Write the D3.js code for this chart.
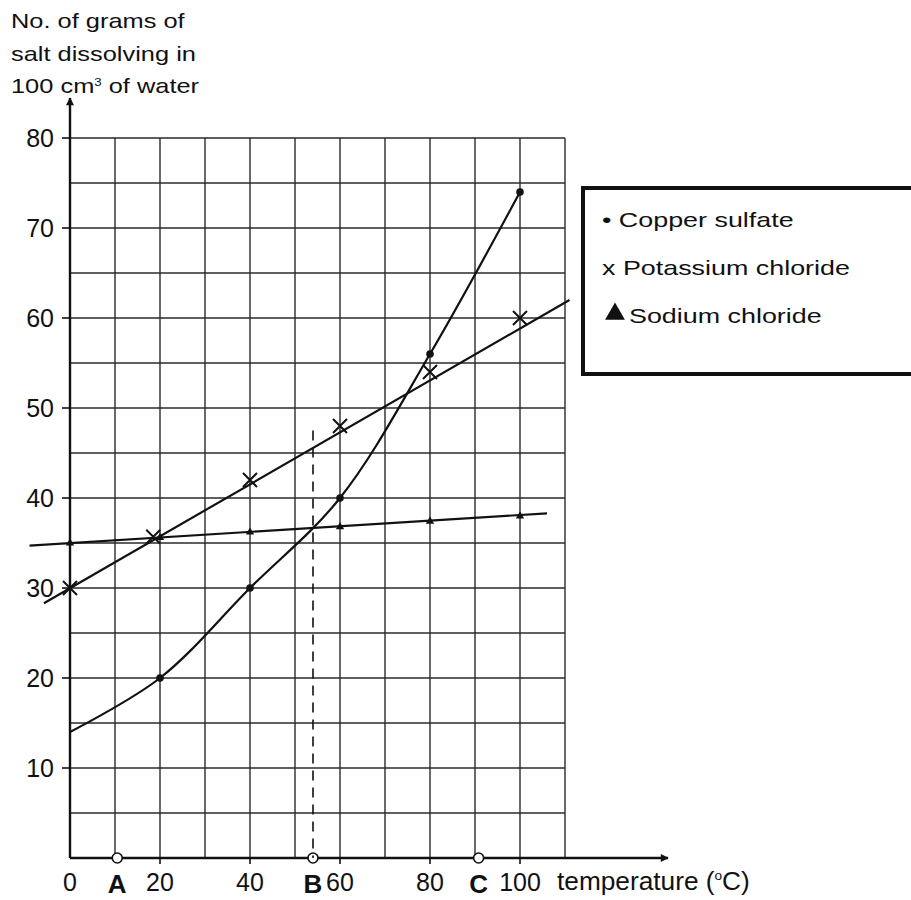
<!DOCTYPE html>
<html>
<head>
<meta charset="utf-8">
<script src="https://cdn.jsdelivr.net/npm/d3@7"></script>
<style>
  body { margin: 0; background: #fff; }
  text { font-family: "Liberation Sans", Arial, sans-serif; fill: #111; }
</style>
</head>
<body>
<div id="chart"></div>
<script>
// values
var xTicks = [0, 20, 40, 60, 80, 100];
var yTicks = [10, 20, 30, 40, 50, 60, 70, 80];
var xGrid = [10, 20, 30, 40, 50, 60, 70, 80, 90, 100, 110];
var yGrid = [5, 10, 15, 20, 25, 30, 35, 40, 45, 50, 55, 60, 65, 70, 75, 80];

var copperCurve = [[0, 14], [20, 20], [40, 30], [60, 40], [80, 56], [100, 74]];
var copperDots = [[20, 20], [40, 30], [60, 40], [80, 56], [100, 74]];

var potassiumLine = [[-5.8, 28.3], [111, 62]];
var potassiumMarks = [[0, 30], [18.5, 35.7], [40, 42], [60, 48], [80, 54], [100, 60]];

var sodiumLine = [[-9, 34.7], [106, 38.3]];
var sodiumMarks = [[0, 35], [20, 35.6], [40, 36.2], [60, 36.8], [80, 37.4], [100, 38]];

var markLetters = [["A", 10.5], ["B", 54], ["C", 90.8]];
var dashedB = [[54, 47.5], [54, 0]];

var titleLines = ["No. of grams of", "salt dissolving in"];
var legendItems = ["• Copper sulfate", "x Potassium chloride", "Sodium chloride"];

var svgWidth = 911;
var svgHeight = 900;

var svg = d3.select("#chart")
  .append("svg")
  .attr("width", svgWidth)
  .attr("height", svgHeight);

var x = d3.scaleLinear().domain([0, 100]).range([70, 520]);
var y = d3.scaleLinear().domain([0, 80]).range([858, 138]);

// grid
svg.append("g").selectAll("line")
  .data(xGrid)
  .enter().append("line")
  .attr("x1", d => x(d)).attr("x2", d => x(d))
  .attr("y1", y(80)).attr("y2", y(0))
  .attr("stroke", "#2a2a2a").attr("stroke-width", 1.4);

svg.append("g").selectAll("line")
  .data(yGrid)
  .enter().append("line")
  .attr("x1", x(0)).attr("x2", x(110))
  .attr("y1", d => y(d)).attr("y2", d => y(d))
  .attr("stroke", "#2a2a2a").attr("stroke-width", 1.4);

// axes with arrows
svg.append("defs").append("marker")
  .attr("id", "arrow")
  .attr("viewBox", "0 0 10 10")
  .attr("refX", 9).attr("refY", 5)
  .attr("markerWidth", 9).attr("markerHeight", 8)
  .attr("markerUnits", "userSpaceOnUse")
  .attr("orient", "auto")
  .append("path")
  .attr("d", "M0,0 L10,5 L0,10 z")
  .attr("fill", "#111");

svg.append("line")
  .attr("x1", x(0)).attr("y1", y(0))
  .attr("x2", x(0)).attr("y2", 98)
  .attr("stroke", "#111").attr("stroke-width", 2.4)
  .attr("marker-end", "url(#arrow)");

svg.append("line")
  .attr("x1", x(0)).attr("y1", y(0))
  .attr("x2", 668).attr("y2", y(0))
  .attr("stroke", "#111").attr("stroke-width", 2.4)
  .attr("marker-end", "url(#arrow)");

// y ticks
var yAxis = svg.append("g");
yAxis.selectAll("line")
  .data(yTicks)
  .enter().append("line")
  .attr("x1", x(0) - 8).attr("x2", x(0))
  .attr("y1", d => y(d)).attr("y2", d => y(d))
  .attr("stroke", "#111").attr("stroke-width", 1.6);
yAxis.selectAll("text")
  .data(yTicks)
  .enter().append("text")
  .attr("x", 54).attr("y", d => y(d) + 9)
  .attr("text-anchor", "end")
  .style("font-size", "25px")
  .text(d => d);

// x ticks
svg.append("g").selectAll("line")
  .data(xTicks.slice(1))
  .enter().append("line")
  .attr("x1", d => x(d)).attr("x2", d => x(d))
  .attr("y1", y(0)).attr("y2", y(0) + 6)
  .attr("stroke", "#111").attr("stroke-width", 1.6);
svg.append("g").selectAll("text")
  .data(xTicks)
  .enter().append("text")
  .attr("x", d => x(d)).attr("y", 891)
  .attr("text-anchor", "middle")
  .style("font-size", "25px")
  .text(d => d);

// A, B, C
svg.append("g").selectAll("circle")
  .data(markLetters)
  .enter().append("circle")
  .attr("cx", d => x(d[1])).attr("cy", y(0))
  .attr("r", 5)
  .attr("fill", "#fff").attr("stroke", "#111").attr("stroke-width", 1.6);
svg.append("g").selectAll("text")
  .data(markLetters)
  .enter().append("text")
  .attr("x", d => x(d[1])).attr("y", 893)
  .attr("text-anchor", "middle")
  .style("font-size", "26px").style("font-weight", "bold")
  .text(d => d[0]);

svg.append("text")
  .attr("transform", "translate(557,890) scale(1.05,1)")
  .style("font-size", "25px")
  .html('temperature (<tspan dy="-10" style="font-size:13px">o</tspan><tspan dy="10">C)</tspan>');

// dashed line at B
svg.append("path")
  .attr("d", d3.line().x(d => x(d[0])).y(d => y(d[1]))(dashedB))
  .attr("stroke", "#111").attr("stroke-width", 1.6)
  .attr("stroke-dasharray", "10,7").attr("fill", "none");

var line = d3.line().x(d => x(d[0])).y(d => y(d[1]));

// sodium chloride
svg.append("path")
  .attr("d", line(sodiumLine))
  .attr("stroke", "#111").attr("stroke-width", 2.2).attr("fill", "none");
svg.append("g").selectAll("path")
  .data(sodiumMarks)
  .enter().append("path")
  .attr("transform", d => `translate(${x(d[0])},${y(d[1])})`)
  .attr("d", d3.symbol().type(d3.symbolTriangle).size(30))
  .attr("fill", "#111");

// potassium chloride
svg.append("path")
  .attr("d", line(potassiumLine))
  .attr("stroke", "#111").attr("stroke-width", 2.2).attr("fill", "none");
svg.append("g").selectAll("path")
  .data(potassiumMarks)
  .enter().append("path")
  .attr("transform", d => `translate(${x(d[0])},${y(d[1])})`)
  .attr("d", "M-7,-7L7,7M-7,7L7,-7")
  .attr("stroke", "#111").attr("stroke-width", 2);

// copper sulfate
svg.append("path")
  .attr("d", d3.line().curve(d3.curveCatmullRom.alpha(0.5)).x(d => x(d[0])).y(d => y(d[1]))(copperCurve))
  .attr("stroke", "#111").attr("stroke-width", 2.2).attr("fill", "none");
svg.append("g").selectAll("circle")
  .data(copperDots)
  .enter().append("circle")
  .attr("cx", d => x(d[0])).attr("cy", d => y(d[1]))
  .attr("r", 3.8)
  .attr("fill", "#111");

// y axis title (the scan is stretched sideways, so the text is too)
svg.append("g").selectAll("text")
  .data(titleLines)
  .enter().append("text")
  .attr("transform", (d, i) => `translate(11,${28 + i * 33}) scale(1.21,1)`)
  .style("font-size", "21px")
  .text(d => d);
svg.append("text")
  .attr("transform", "translate(11,93) scale(1.21,1)")
  .style("font-size", "21px")
  .html('100 cm<tspan dy="-7" style="font-size:11px">3</tspan><tspan dy="7"> of water</tspan>');

// legend
var legend = svg.append("g");
legend.append("rect")
  .attr("x", 583).attr("y", 188)
  .attr("width", 340).attr("height", 186)
  .attr("fill", "#fff").attr("stroke", "#111").attr("stroke-width", 4);
legend.selectAll("text")
  .data(legendItems)
  .enter().append("text")
  .attr("transform", (d, i) => `translate(${i === 2 ? 629 : 602},${227 + i * 48}) scale(1.28,1)`)
  .style("font-size", "21px")
  .text(d => d);
legend.append("path")
  .attr("transform", "translate(615,314)")
  .attr("d", d3.symbol().type(d3.symbolTriangle).size(170))
  .attr("fill", "#111");
</script>
</body>
</html>
